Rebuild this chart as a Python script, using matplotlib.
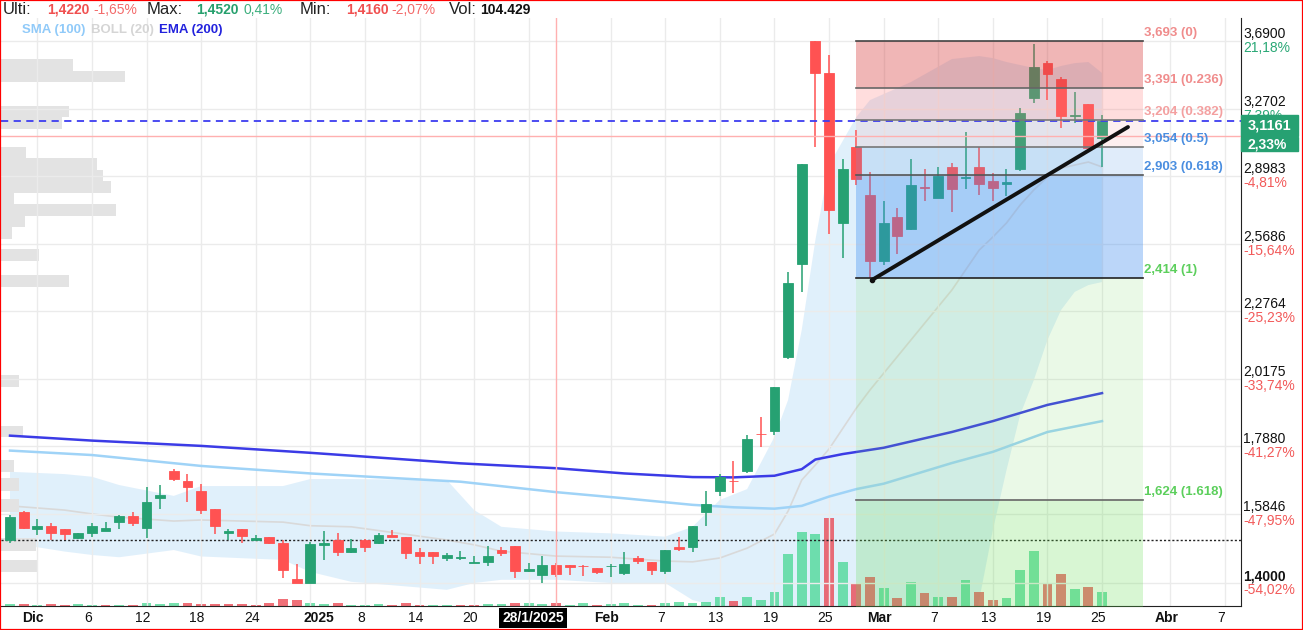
import numpy as np
import matplotlib.pyplot as plt
from matplotlib.patches import Rectangle
from matplotlib.ticker import NullLocator
from matplotlib.transforms import blended_transform_factory, offset_copy

plt.rcParams['font.family'] = ['Liberation Sans', 'DejaVu Sans']

W, H = 1303, 630
GREEN = '#26a172'
RED = '#ff5252'

# daily candles, one per trading day (29/11/2024 .. 25/3/2025)
opens = [1.512, 1.589, 1.541, 1.550, 1.543, 1.517, 1.530, 1.537, 1.561, 1.578,
         1.544, 1.629, 1.710, 1.680, 1.650, 1.599, 1.530, 1.543, 1.512, 1.519,
         1.503, 1.410, 1.401, 1.499, 1.512, 1.479, 1.512, 1.503, 1.526, 1.519,
         1.481, 1.481, 1.463, 1.464, 1.451, 1.454, 1.485, 1.496, 1.431, 1.420,
         1.446, 1.446, 1.444, 1.439, 1.442, 1.425, 1.465, 1.454, 1.430, 1.492,
         1.492, 1.590, 1.650, 1.681, 1.710, 1.828, 1.837, 2.097, 2.476, 3.690,
         3.485, 2.665, 3.053, 2.802, 2.490, 2.694, 2.636, 2.840, 2.787, 2.946,
         2.890, 2.946, 2.873, 2.860, 2.935, 3.332, 3.547, 3.447, 3.225, 3.297,
         3.102]
highs = [1.581, 1.593, 1.569, 1.559, 1.543, 1.531, 1.558, 1.562, 1.581, 1.590,
         1.661, 1.668, 1.716, 1.700, 1.670, 1.599, 1.541, 1.543, 1.525, 1.519,
         1.512, 1.448, 1.507, 1.536, 1.530, 1.515, 1.515, 1.530, 1.539, 1.519,
         1.491, 1.481, 1.478, 1.482, 1.468, 1.497, 1.494, 1.496, 1.452, 1.469,
         1.452, 1.446, 1.445, 1.439, 1.448, 1.481, 1.469, 1.454, 1.485, 1.519,
         1.549, 1.650, 1.701, 1.740, 1.824, 1.884, 1.988, 2.441, 2.961, 3.690,
         3.599, 2.988, 3.147, 2.919, 2.772, 2.737, 2.988, 2.935, 2.946, 2.967,
         3.136, 3.053, 2.914, 2.935, 3.273, 3.670, 3.560, 3.460, 3.368, 3.297,
         3.232]
lows = [1.503, 1.541, 1.526, 1.512, 1.512, 1.515, 1.521, 1.537, 1.541, 1.551,
        1.517, 1.597, 1.681, 1.617, 1.583, 1.527, 1.512, 1.503, 1.512, 1.500,
        1.412, 1.399, 1.401, 1.459, 1.470, 1.476, 1.479, 1.501, 1.519, 1.461,
        1.448, 1.448, 1.457, 1.459, 1.450, 1.444, 1.470, 1.412, 1.429, 1.399,
        1.416, 1.420, 1.418, 1.423, 1.416, 1.420, 1.448, 1.420, 1.423, 1.483,
        1.481, 1.550, 1.636, 1.644, 1.704, 1.785, 1.823, 2.090, 2.356, 3.053,
        2.613, 2.503, 2.852, 2.414, 2.472, 2.521, 2.632, 2.772, 2.787, 2.718,
        2.832, 2.802, 2.772, 2.797, 2.925, 3.303, 3.320, 3.158, 3.187, 3.045,
        2.946]
closes = [1.575, 1.544, 1.550, 1.532, 1.527, 1.530, 1.550, 1.544, 1.578, 1.558,
          1.619, 1.639, 1.685, 1.661, 1.595, 1.551, 1.536, 1.523, 1.518, 1.503,
          1.433, 1.401, 1.502, 1.503, 1.479, 1.491, 1.492, 1.526, 1.519, 1.476,
          1.469, 1.469, 1.472, 1.466, 1.453, 1.469, 1.476, 1.431, 1.436, 1.446,
          1.422, 1.441, 1.443, 1.429, 1.444, 1.448, 1.456, 1.433, 1.485, 1.488,
          1.549, 1.611, 1.692, 1.679, 1.811, 1.826, 1.988, 2.394, 2.961, 3.485,
          2.728, 2.935, 2.883, 2.490, 2.665, 2.604, 2.852, 2.836, 2.898, 2.832,
          2.895, 2.857, 2.837, 2.870, 3.244, 3.522, 3.478, 3.227, 3.235, 3.045,
          3.200]
# volume in thousands of shares
volumes = [70, 70, 35, 70, 35, 70, 35, 35, 35, 35,
           105, 70, 105, 105, 70, 70, 70, 70, 35, 105,
           245, 210, 105, 70, 105, 35, 35, 70, 35, 105,
           35, 35, 35, 35, 35, 70, 70, 105, 105, 70,
           104, 35, 105, 35, 70, 105, 35, 35, 105, 140,
           105, 140, 315, 175, 315, 210, 490, 1820, 2590, 2520,
           3080, 1540, 770, 1015, 630, 280, 840, 455, 315, 315,
           910, 490, 210, 280, 1260, 1925, 770, 1120, 595, 665,
           490]

# Bollinger (20) read at selected trading days
boll_idx = [0, 4, 6, 8, 12, 14, 20, 22, 25, 32, 34, 36, 40, 44, 48, 50, 52, 54, 56, 57,
            58, 59, 60, 62, 63, 66, 69, 71, 72, 73, 74, 75, 76, 77, 78, 79, 80]
boll_up = [1.708, 1.701, 1.693, 1.668, 1.636, 1.665, 1.665, 1.686, 1.686, 1.683,
           1.595, 1.548, 1.535, 1.530, 1.521, 1.548, 1.624, 1.656, 1.818, 1.942,
           2.201, 2.585, 2.956, 3.221, 3.320, 3.429, 3.573, 3.592, 3.579, 3.554,
           3.535, 3.516, 3.503, 3.529, 3.547, 3.554, 3.485]
boll_mid = [1.607, 1.595, 1.584, 1.575, 1.564, 1.567, 1.561, 1.551, 1.548, 1.512,
            1.499, 1.482, 1.469, 1.466, 1.456, 1.454, 1.464, 1.490, 1.528, 1.592,
            1.683, 1.729, 1.779, 1.914, 1.977, 2.162, 2.364, 2.539, 2.599, 2.665,
            2.752, 2.827, 2.893, 2.940, 2.956, 2.972, 2.946]
boll_low = [1.504, 1.481, 1.472, 1.466, 1.485, 1.468, 1.459, 1.428, 1.403, 1.383,
            1.400, 1.408, 1.408, 1.400, 1.400, 1.358, 1.341, 1.280, 1.150, 1.020,
            0.900, 0.820, 0.780, 0.760, 0.780, 0.900, 1.100, 1.358, 1.539, 1.713,
            1.891, 2.012, 2.162, 2.281, 2.356, 2.385, 2.398]

ema_idx = [0, 6, 14, 22, 25, 33, 40, 45, 50, 53, 56, 58, 59, 61, 64, 69, 72, 76, 80]
ema200 = [1.822, 1.806, 1.789, 1.767, 1.758, 1.734, 1.719, 1.703, 1.692, 1.691,
          1.696, 1.716, 1.746, 1.763, 1.783, 1.834, 1.870, 1.925, 1.966]
sma_idx = [0, 6, 14, 22, 25, 33, 40, 45, 50, 53, 56, 58, 60, 62, 64, 69, 72, 76, 80]
sma100 = [1.774, 1.760, 1.726, 1.703, 1.696, 1.678, 1.647, 1.629, 1.610, 1.603,
          1.599, 1.607, 1.634, 1.656, 1.672, 1.735, 1.770, 1.834, 1.870]

# volume profile by price band (thousands)
prof_lo = [3.500, 3.429, 3.221, 3.155, 2.992, 2.931, 2.872, 2.813, 2.756, 2.700, 2.645,
           2.591, 2.491, 2.378, 1.986, 1.817, 1.708, 1.651, 1.590, 1.483, 1.427]
prof_hi = [3.573, 3.500, 3.288, 3.221, 3.054, 2.992, 2.931, 2.872, 2.813, 2.756, 2.700,
           2.645, 2.542, 2.427, 2.031, 1.855, 1.744, 1.689, 1.627, 1.517, 1.459]
prof_vol = [7200, 12400, 6800, 6100, 2500, 9600, 10200, 11000, 1300, 11500, 2400,
            1100, 3800, 6800, 1800, 2200, 1300, 1800, 1800, 3500, 3600]

# fibonacci retracement
fib_levels = [3.693, 3.391, 3.204, 3.054, 2.903, 2.414, 1.624]
fib_ratios = ['0', '0.236', '0.382', '0.5', '0.618', '1', '1.618']
fib_start, fib_end = 62, 83
trend_x = [63.15, 81.9]
trend_y = [2.407, 3.164]

ytick_vals = [3.6900, 3.2702, 2.8983, 2.5686, 2.2764, 2.0175, 1.7880, 1.5846, 1.4000]
ytick_pct = ['21,18%', '7,39%', '-4,81%', '-15,64%', '-25,23%', '-33,74%', '-41,27%',
             '-47,95%', '-54,02%']
xtick_idx = [2, 6, 10, 14, 18, 22, 26, 30, 34, 38, 44, 48, 52, 56, 60, 64, 68, 72, 76, 80, 85, 89]
xtick_lab = ['Dic', '6', '12', '18', '24', '2025', '8', '14', '20', '', 'Feb', '7', '13',
             '19', '25', 'Mar', '7', '13', '19', '25', 'Abr', '7']
bold_labels = {'Dic', '2025', 'Feb', 'Mar', 'Abr'}

# crosshair
cross_idx = 40
cross_label = '28/1/2025'
cross_price = 3.1161
cross_pct = '2,33%'
dotted_level = 1.512

fig = plt.figure(figsize=(W / 100, H / 100), dpi=100)
fig.patch.set_facecolor('white')
rect = [1 / W, 24 / H, 1240 / W, 588 / H]
ax = fig.add_axes(rect)
axb = fig.add_axes(rect, sharex=ax)   # bollinger fill, lowest layer
axp = ax.twiny()                      # volume profile
axv = ax.twinx()                      # volume
for a, z in [(axb, 0), (axp, 1), (axv, 2), (ax, 3)]:
    a.set_zorder(z)
    a.patch.set_visible(False)

x = np.arange(len(closes))
o = np.array(opens); hi = np.array(highs); lo = np.array(lows); c = np.array(closes)
col = np.where(c >= o, GREEN, RED)

ax.set_yscale('log')
ax.set_ylim(1.3436, 3.845)
ax.set_xlim(-0.66, 90.18)
ax.yaxis.set_minor_locator(NullLocator())
ax.set_yticks(ytick_vals)
ax.set_xticks(xtick_idx)
ax.grid(True, color='#ebebeb', lw=1)
ax.tick_params(length=0, labelleft=False, labelbottom=False)
for s in ['left', 'top']:
    ax.spines[s].set_visible(False)
for s in ['right', 'bottom']:
    ax.spines[s].set_color('#222')

axb.set_yscale('log')
axb.set_ylim(ax.get_ylim())
axb.axis('off')
axb.fill_between(boll_idx, boll_low, boll_up, color='#a8d4f5', alpha=0.35, lw=0)
axb.plot(boll_idx, boll_mid, color='#d9d9d9', lw=1.2)

# volume
prev = np.r_[o[0], c[:-1]]
vcol = np.where(c >= prev, '#3cd58c', '#ea333f')
axv.bar(x, volumes, width=0.72, color=vcol, alpha=0.7)
axv.set_ylim(0, 588 * 35)
axv.set_yticks([])
for s in axv.spines.values():
    s.set_visible(False)

# volume profile
axp.barh(prof_lo, prof_vol, height=np.array(prof_hi) - np.array(prof_lo), left=0,
         align='edge', color='#e3e3e3')
axp.set_xlim(0, 124100)
axp.set_xticks([])
for s in axp.spines.values():
    s.set_visible(False)

# sma, ema
ax.plot(sma_idx, sma100, color='#9fd3f7', lw=1.8, zorder=2)
ax.plot(ema_idx, ema200, color='#3b3be6', lw=1.8, zorder=2)

# reference lines
ax.axhline(dotted_level, color='#222', lw=1, ls=(0, (1.5, 1.5)), zorder=2.5)
ax.axhline(closes[-1], color='#3d3df0', lw=1.3, ls=(0, (4, 3)), zorder=6)
ax.axhline(cross_price, color='#ffb0b0', lw=1, zorder=6)
ax.axvline(cross_idx, color='#ffb0b0', lw=1, zorder=6)

# candles
ax.vlines(x, lo, hi, color=col, lw=1.1, zorder=3)
ax.bar(x, np.abs(c - o), bottom=np.minimum(o, c), width=0.72, color=col,
       edgecolor=col, lw=0.6, zorder=4)

# fibonacci zones
zone_cols = [('#d84040', 0.38), ('#ff7878', 0.25), ('#f59a9a', 0.15), ('#64a0e6', 0.2),
             ('#3c8cf0', 0.35), ('#78dc64', 0.15)]
for i, (zc, za) in enumerate(zone_cols):
    ax.fill_between([fib_start, fib_end], fib_levels[i + 1], fib_levels[i],
                    color=zc, alpha=za, lw=0, zorder=5)
ax.fill_between([fib_start, fib_end], 1.0, fib_levels[-1], color='#64dc50', alpha=0.25,
                lw=0, zorder=5)
lab_cols = ['#f08c8c', '#f08c8c', '#f4a0a0', '#4a8ee0', '#4a8ee0', '#5ccf5c', '#5ccf5c']
line_cols = ['#444', '#666', '#777', '#777', '#555', '#222', '#666']
for lvl, r, lc, ln in zip(fib_levels, fib_ratios, lab_cols, line_cols):
    ax.plot([fib_start, fib_end], [lvl, lvl], color=ln, lw=1.2, zorder=6)
    ax.text(fib_end, lvl, f"{lvl:.3f}".replace('.', ',') + f" ({r})", color=lc,
            fontsize=9.5, fontweight='bold', ha='left', va='bottom',
            transform=offset_copy(ax.transData, fig=fig, x=1, y=2, units='dots'), zorder=7)

ax.plot(trend_x, trend_y, color='#111', lw=2.8, solid_capstyle='round', zorder=7)
ax.plot(trend_x[0], trend_y[0], 'o', color='#111', ms=3, zorder=7)

# right price axis
tr = blended_transform_factory(ax.transAxes, ax.transData)
for v, p in zip(ytick_vals, ytick_pct):
    ax.text(1.0, v, f"{v:.4f}".replace('.', ','), ha='left', va='center', fontsize=10,
            color='#111', fontweight='bold' if v == 1.4 else 'normal', clip_on=False,
            transform=offset_copy(tr, fig=fig, x=2, y=7, units='dots'))
    ax.text(1.0, v, p, ha='left', va='center', fontsize=10,
            color='#2aa876' if not p.startswith('-') else '#f25a5a', clip_on=False,
            transform=offset_copy(tr, fig=fig, x=2, y=-7, units='dots'))

# crosshair price boxes (pixel geometry from the data position)
_, py = ax.transData.transform((0, cross_price))
x0 = 1241 / W
fig.add_artist(Rectangle((x0, (py - 0.5) / H), 57 / W, 21 / H, transform=fig.transFigure,
                         color=GREEN, zorder=10))
fig.add_artist(Rectangle((x0, (py - 15.5) / H), 57 / W, 14 / H, transform=fig.transFigure,
                         color=GREEN, zorder=10))
fig.text((x0 * W + 28.5) / W, (py + 10) / H, f"{cross_price:.4f}".replace('.', ','),
         ha='center', va='center', color='white', fontsize=10.5, fontweight='bold', zorder=11)
fig.text((x0 * W + 26) / W, (py - 8.5) / H, cross_pct, ha='center', va='center',
         color='white', fontsize=10, fontweight='bold', zorder=11)

# x labels
tx = blended_transform_factory(ax.transData, ax.transAxes)
for k, lab in zip(xtick_idx, xtick_lab):
    if not lab:
        continue
    dx = 9 if lab == '2025' else -4
    ax.text(k, 0, lab, ha='center', va='center', fontsize=10, color='#111',
            fontweight='bold' if lab in bold_labels else 'normal', clip_on=False,
            transform=offset_copy(tx, fig=fig, x=dx, y=-12, units='dots'))
ax.text(cross_idx, 0, cross_label, ha='center', va='center', fontsize=10, color='white',
        fontweight='bold', clip_on=False, zorder=12,
        bbox=dict(boxstyle='square,pad=0.2', fc='black', ec='none'),
        transform=offset_copy(tx, fig=fig, x=-23, y=-12, units='dots'))

# header
def ftext(px, py_, s, **kw):
    fig.text(px / W, 1 - py_ / H, s, va='center', ha='left', **kw)

ftext(3, 10, 'Ulti:', fontsize=12, color='#222')
ftext(47, 10, '1,4220', fontsize=10, color='#f05050', fontweight='bold')
ftext(93, 10, '-1,65%', fontsize=10, color='#f36b6b')
ftext(147, 10, 'Max:', fontsize=12, color='#222')
ftext(196, 10, '1,4520', fontsize=10, color='#26a06d', fontweight='bold')
ftext(243, 10, '0,41%', fontsize=10, color='#3daf7e')
ftext(300, 10, 'Min:', fontsize=12, color='#222')
ftext(346, 10, '1,4160', fontsize=10, color='#f05050', fontweight='bold')
ftext(391, 10, '-2,07%', fontsize=10, color='#f36b6b')
ftext(449, 10, 'Vol:', fontsize=12, color='#222')
ftext(480, 10, '104.429', fontsize=10, color='#111', fontweight='bold')
ftext(22, 30, 'SMA (100)', fontsize=9.5, color='#90caf9', fontweight='bold')
ftext(91, 30, 'BOLL (20)', fontsize=9.5, color='#d5d5d5', fontweight='bold')
ftext(159, 30, 'EMA (200)', fontsize=9.5, color='#2222dd', fontweight='bold')

fig.add_artist(Rectangle((0, 0), 1, 1, transform=fig.transFigure, fill=False,
                         ec='red', lw=1.6, zorder=20))

fig.savefig('out.png', dpi=100)
